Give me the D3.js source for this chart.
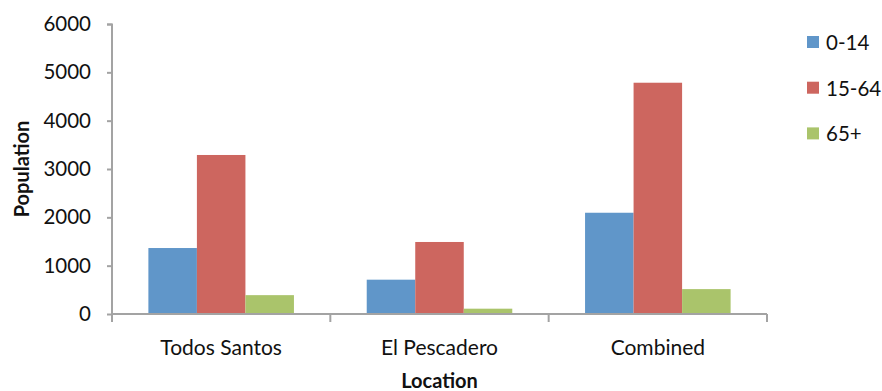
<!DOCTYPE html>
<html>
<head>
<meta charset="utf-8">
<script src="https://cdn.jsdelivr.net/npm/d3@7"></script>
<style>
  html, body { margin: 0; padding: 0; background: #fff; }
  svg { display: block; }
  text { font-family: Lato, "Open Sans", sans-serif; fill: #111; }
</style>
</head>
<body>
<div id="chart"></div>
<script>
// Population by age group for each location
const locations = ["Todos Santos", "El Pescadero", "Combined"];
const ageGroups = ["0-14", "15-64", "65+"];
const ages0to14 = [1365, 710, 2095];
const ages15to64 = [3290, 1490, 4785];
const ages65plus = [390, 110, 515];
const yTicks = [0, 1000, 2000, 3000, 4000, 5000, 6000];
const colors = ["#6096c9", "#cd665f", "#aac46b"];

const seriesValues = [ages0to14, ages15to64, ages65plus];

const width = 882, height = 391;
const margin = { left: 112, right: 115, top: 24, bottom: 77 };
const plotW = width - margin.left - margin.right;
const plotH = height - margin.top - margin.bottom;

const svg = d3.select("#chart").append("svg")
  .attr("width", width).attr("height", height);

const g = svg.append("g").attr("transform", `translate(${margin.left},${margin.top})`);

const x0 = d3.scaleBand().domain(locations).range([0, plotW]).paddingInner(0).paddingOuter(0);
const groupW = x0.bandwidth() * (3 / 4.5);
const x1 = d3.scaleBand().domain(ageGroups)
  .range([(x0.bandwidth() - groupW) / 2, (x0.bandwidth() + groupW) / 2]).padding(0);
const y = d3.scaleLinear().domain([0, 6000]).range([plotH, 0]);

// Bars
const groups = g.selectAll("g.loc").data(locations).join("g")
  .attr("class", "loc")
  .attr("transform", d => `translate(${x0(d)},0)`);

groups.selectAll("rect")
  .data((loc, i) => ageGroups.map((a, j) => ({ age: a, value: seriesValues[j][i], color: colors[j] })))
  .join("rect")
  .attr("x", d => x1(d.age))
  .attr("y", d => y(d.value))
  .attr("width", x1.bandwidth())
  .attr("height", d => plotH - y(d.value))
  .attr("fill", d => d.color);

// Axes
const axisColor = "#a3a3a3";
const yAxis = g.append("g")
  .call(d3.axisLeft(y).tickValues(yTicks).tickSize(5).tickPadding(16).tickFormat(d3.format("d")));
yAxis.select(".domain").attr("stroke", axisColor).attr("stroke-width", 2)
  .attr("d", `M-5,0.5H0V${plotH + 8}`);
yAxis.selectAll(".tick line").attr("stroke", axisColor).attr("stroke-width", 2);
yAxis.selectAll(".tick text").style("font-size", "20.5px").attr("fill", "#111");

const tickPositions = d3.range(locations.length + 1).map(i => i * x0.bandwidth());
const xAxis = g.append("g").attr("transform", `translate(0,${plotH})`);
xAxis.append("line").attr("x1", 0).attr("x2", plotW).attr("y1", 0).attr("y2", 0)
  .attr("stroke", axisColor).attr("stroke-width", 2);
xAxis.selectAll("line.tk").data(tickPositions.slice(1)).join("line")
  .attr("class", "tk")
  .attr("x1", d => d).attr("x2", d => d).attr("y1", 0).attr("y2", 8)
  .attr("stroke", axisColor).attr("stroke-width", 2);
xAxis.selectAll("text.cat").data(locations).join("text")
  .attr("class", "cat")
  .attr("x", d => x0(d) + x0.bandwidth() / 2)
  .attr("y", 41)
  .attr("text-anchor", "middle")
  .style("font-size", "21px")
  .text(d => d);

// Axis titles
svg.append("text")
  .attr("x", margin.left + plotW / 2)
  .attr("y", 388)
  .attr("text-anchor", "middle")
  .style("font-size", "20px").style("font-weight", "bold")
  .text("Location");

svg.append("text")
  .attr("transform", `translate(29,${margin.top + plotH / 2}) rotate(-90)`)
  .attr("text-anchor", "middle")
  .style("font-size", "20px").style("font-weight", "bold")
  .text("Population");

// Legend
const legend = svg.append("g").attr("transform", "translate(807,36)");
const items = legend.selectAll("g").data(ageGroups).join("g")
  .attr("transform", (d, i) => `translate(0,${i * 45.7})`);
items.append("rect").attr("width", 12).attr("height", 12)
  .attr("fill", (d, i) => colors[i]);
items.append("text").attr("x", 19).attr("y", 14)
  .style("font-size", "20.5px")
  .text(d => d);
</script>
</body>
</html>
